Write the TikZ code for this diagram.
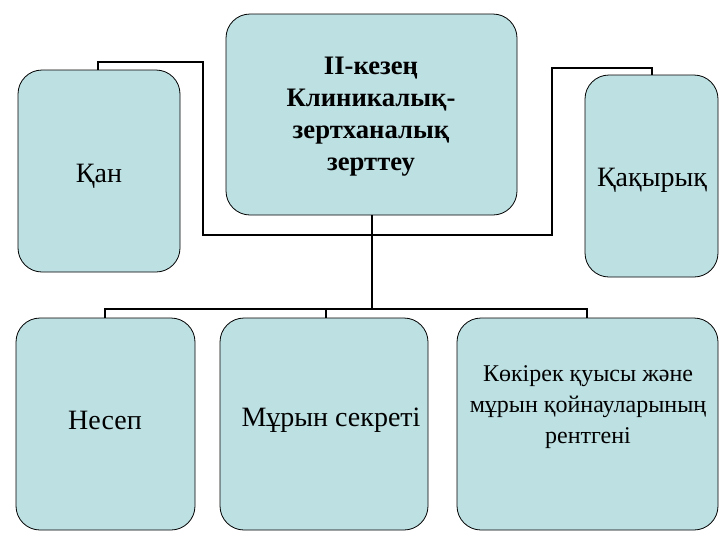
\documentclass[tikz,border=0pt]{standalone}
\usepackage{fontspec}
\setmainfont{Liberation Serif}
\begin{document}
\begin{tikzpicture}[x=0.75pt,y=-0.75pt,
  box/.style={draw=black,line width=0.6pt,fill=boxc,rounded corners=18pt},
  lbl/.style={align=center,font=\fontsize{21}{25}\selectfont},
  wire/.style={line width=1.6pt}]
\definecolor{boxc}{HTML}{BDE0E3}
\useasboundingbox (0,0) rectangle (720,540);
\draw[box] (226,14) rectangle (517,215);
\node[lbl,font=\bfseries\fontsize{20}{24}\selectfont] (t) at (371,117) {II-кезең\\Клиникалық-\\зертханалық\\зерттеу};
\draw[box] (18,70) rectangle (180,272);
\draw[box] (585,75) rectangle (718,277);
\draw[box] (16,318) rectangle (195,530);
\draw[box] (220,318) rectangle (428,530);
\draw[box] (457,318) rectangle (718,530);
\node[lbl] (a) at (99,176) {Қан};
\node[lbl] (b) at (652,180) {Қақырық};
\node[lbl] (c) at (105,420) {Несеп};
\node[lbl] (d) at (331,420) {Мұрын секреті};
\node[lbl,font=\fontsize{18}{23}\selectfont] (e) at (588,407) {Көкірек қуысы және\\мұрын қойнауларының\\рентгені};
\coordinate (ta) at (98,70);
\coordinate (tb) at (652,75);
\coordinate (tc) at (372,215);
\draw[wire] (ta) -- (98,62) -- (203,62) -- (203,235) -- (552,235) -- (552,68) -- (652,68) -- (tb);
\draw[wire] (tc) -- (372,309);
\draw[wire] (105,318) -- (105,309) -- (587,309) -- (587,318);
\draw[wire] (326,309) -- (326,318);
\end{tikzpicture}
\end{document}
